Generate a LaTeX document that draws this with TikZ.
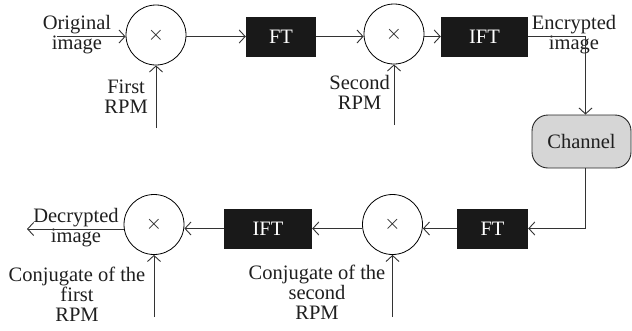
\documentclass[tikz,border=0pt]{standalone}
\usepackage{fontspec}
\setmainfont{Liberation Serif}
\usetikzlibrary{arrows.meta}
\begin{document}
\begin{tikzpicture}[x=1pt,y=-1pt,
  every node/.style={font=\fontsize{20.5}{20}\selectfont, inner sep=0pt, text=black!88},
  mult/.style={draw=black, line width=0.8pt, circle, minimum size=60pt, fill=white},
  blockbox/.style={fill=black!90, text=white, minimum height=40pt},
  chanbox/.style={draw=black!85, line width=0.9pt, fill=black!16, rounded corners=16pt,
                  minimum width=99pt, minimum height=53pt},
  lbl/.style={align=center},
  arr/.style={draw=black!80, line width=0.9pt, -{Straight Barb[length=6pt,width=13pt]}},
  ln/.style={draw=black!80, line width=0.9pt}]
\useasboundingbox (0,0) rectangle (632,330);

% encryption chain
\node[mult] (c1) at (156,35) {$\times$};
\node[blockbox, minimum width=70pt] (ft1) at (281,36.5) {FT};
\node[mult] (c2) at (394,34) {$\times$};
\node[blockbox, minimum width=87pt] (ift1) at (484.5,36.5) {IFT};
\node[chanbox] (ch) at (581.5,141.5) {Channel};

% decryption chain
\node[blockbox, minimum width=71pt] (ft2) at (492.5,228.5) {FT};
\node[mult] (c3) at (392.5,224.5) {$\times$};
\node[blockbox, minimum width=88pt] (ift2) at (268,228.5) {IFT};
\node[mult] (c4) at (154,224.5) {$\times$};

% labels
\node[lbl] (oi) at (77,35) {Original\\image};
\node[lbl, anchor=east] (r1) at (148,97) {First\\RPM};
\node[lbl, anchor=east] (r2) at (390,92) {Second\\RPM};
\node[lbl] (ei) at (574,35) {Encrypted\\image};
\node[lbl] (di) at (76,228) {Decrypted\\image};
\node[lbl] (cr1) at (77,294) {Conjugate of the\\first\\RPM};
\node[lbl] (cr2) at (317,292) {Conjugate of the\\second\\RPM};

% free ends and corners of connectors
\coordinate (inO) at (57,36.5);
\coordinate (inR1) at (156,128);
\coordinate (inR2) at (394,125);
\coordinate (tA) at (585.5,36.5);
\coordinate (tB) at (585.5,228.5);
\coordinate (outD) at (27,229);
\coordinate (inR3) at (392.5,317);
\coordinate (inR4) at (154,317);

% connectors
\draw[arr] (inO) -- (inO -| c1.west);
\draw[arr] (inR1) -- (c1.south);
\draw[arr] (c1.east |- ft1.west) -- (ft1.west);
\draw[arr] (ft1.east) -- (ft1.east -| c2.west);
\draw[arr] (inR2) -- (c2.south);
\draw[arr] (c2.east |- ift1.west) -- (ift1.west);
\draw[arr] (ift1.east) -- (tA) -- (tA |- ch.north);
\draw[arr] (tB |- ch.south) -- (tB) -- (ft2.east);
\draw[arr] (ft2.west) -- (ft2.west -| c3.east);
\draw[arr] (inR3) -- (c3.south);
\draw[arr] (c3.west |- ift2.east) -- (ift2.east);
\draw[arr] (ift2.west) -- (ift2.west -| c4.east);
\draw[arr] (inR4) -- (c4.south);
\draw[arr] (c4.west |- outD) -- (outD);
\end{tikzpicture}
\end{document}
